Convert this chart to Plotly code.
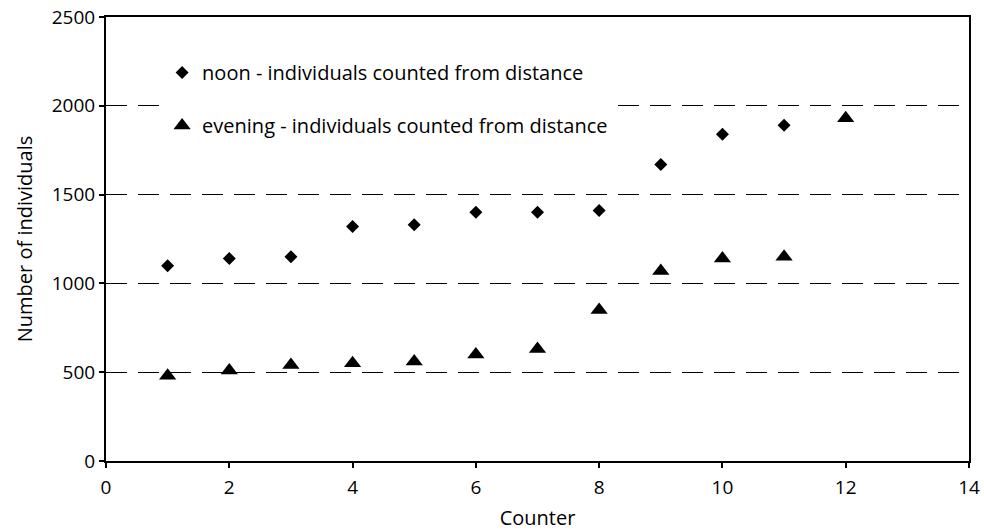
import plotly.graph_objects as go

counter = [1, 2, 3, 4, 5, 6, 7, 8, 9, 10, 11, 12]
noon_x = [1, 2, 3, 4, 5, 6, 7, 8, 9, 10, 11]
noon_vals = [1100, 1140, 1150, 1320, 1330, 1400, 1400, 1410, 1670, 1840, 1890]
evening_vals = [480, 510, 540, 550, 560, 600, 630, 850, 1070, 1140, 1150, 1930]

FONT = "Open Sans"

fig = go.Figure()
fig.add_trace(go.Scatter(
    x=noon_x, y=noon_vals, mode="markers",
    name="noon - individuals counted from distance",
    legendgroup="a",
    marker=dict(symbol="diamond", size=10, color="black"),
))
fig.add_trace(go.Scatter(
    x=counter, y=evening_vals, mode="markers",
    name="evening - individuals counted from distance",
    legendgroup="b",
    marker=dict(symbol="triangle-up", size=15, color="black"),
))

axis_common = dict(
    showline=True, linecolor="black", linewidth=2, mirror=True,
    ticks="outside", ticklen=5, tickcolor="black", tickwidth=1.5,
    tickfont=dict(family=FONT, size=19, color="black"),
    zeroline=False, automargin=False,
)

fig.update_xaxes(
    range=[0, 14], dtick=2, showgrid=False, ticklabelstandoff=3,
    title=dict(text="Counter", font=dict(family=FONT, size=20, color="black"), standoff=12),
    **axis_common,
)
fig.update_yaxes(
    range=[0, 2500], dtick=500, showgrid=True, gridcolor="black", gridwidth=1,
    griddash="21px,11px",
    title=dict(text="Number of individuals", font=dict(family=FONT, size=20, color="black"), standoff=14),
    **axis_common,
)

fig.update_layout(
    width=984, height=531,
    margin=dict(l=106, r=15, t=17, b=70),
    paper_bgcolor="white", plot_bgcolor="white",
    font=dict(family=FONT, size=20, color="black"),
    showlegend=True,
    legend=dict(
        x=0.065, y=0.919, xanchor="left", yanchor="top",
        bgcolor="white", borderwidth=0,
        font=dict(family=FONT, size=20, color="black"),
        tracegroupgap=24,
    ),
)

fig.write_html("out.html")
